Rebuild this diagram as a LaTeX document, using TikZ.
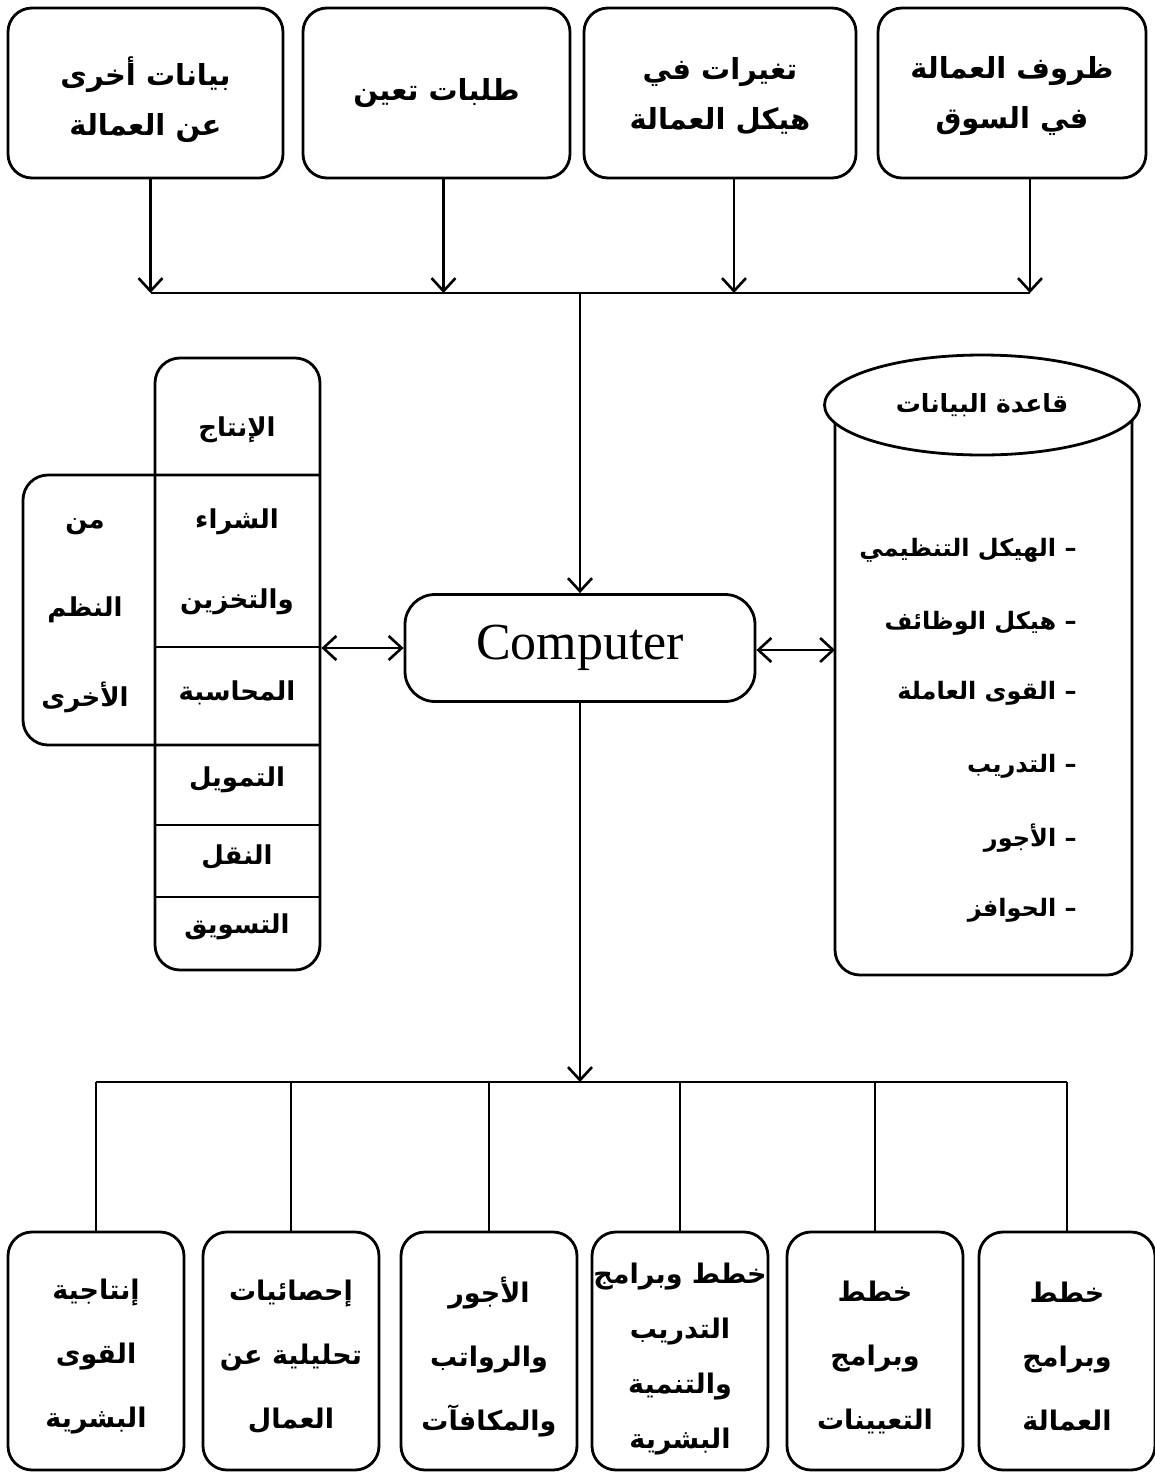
\documentclass[tikz,border=0pt]{standalone}
\usepackage{fontspec}
\setmainfont{Liberation Serif}
\newfontfamily\arabicfont[Script=Arabic]{DejaVu Sans}
\TeXXeTstate=1
\usetikzlibrary{arrows.meta,shapes.geometric}
\newcommand\artext[1]{\beginR #1\endR}
\begin{document}
\begin{tikzpicture}[x=1pt,y=-1pt,line width=2.8pt,
  box/.style={draw,rounded corners=24pt,inner sep=0pt},
  boxtext/.style={align=center,inner sep=0pt,
    font=\arabicfont\bfseries\fontsize{29}{50}\selectfont},
  botbox/.style={draw,rounded corners=24pt,inner sep=0pt,
    minimum width=176pt,minimum height=238pt},
  bottext/.style={align=center,inner sep=0pt,
    font=\arabicfont\bfseries\fontsize{27}{64}\selectfont},
  lab/.style={inner sep=0pt,align=center,font=\arabicfont\bfseries\fontsize{26}{80}\selectfont},
  item/.style={inner sep=0pt,anchor=east,font=\arabicfont\bfseries\fontsize{24}{30}\selectfont},
  arr/.style={-{Straight Barb[length=13pt,width=24pt,line width=2.6pt]}},
  darr/.style={{Straight Barb[length=13pt,width=24pt,line width=2.6pt]}-{Straight Barb[length=13pt,width=24pt,line width=2.6pt]}}]
\useasboundingbox (0,0) rectangle (1155,1476);

% top boxes
\node[box,minimum width=275pt,minimum height=170pt] (t1) at (145.5,93) {};
\node[box,minimum width=267pt,minimum height=170pt] (t2) at (436.5,93) {};
\node[box,minimum width=272pt,minimum height=170pt] (t3) at (720,93) {};
\node[box,minimum width=268pt,minimum height=170pt] (t4) at (1012,93) {};
\node[boxtext] (t1x) at ([yshift=-7pt]t1.center) {\artext{بيانات أخرى}\\\artext{عن العمالة}};
\node[boxtext] (t2x) at (t2.center) {\artext{طلبات تعين}};
\node[boxtext] (t3x) at ([yshift=-3pt]t3.center) {\artext{تغيرات في}\\\artext{هيكل العمالة}};
\node[boxtext] (t4x) at ([yshift=-3pt]t4.center) {\artext{ظروف العمالة}\\\artext{في السوق}};

% computer
\node[draw,rounded corners=30pt,minimum width=350pt,minimum height=107pt,inner sep=0pt,
  font=\fontsize{52}{60}\selectfont] (comp) at (580,648) {Computer};

% top bus
\coordinate (bus) at (580,293);
\draw[arr] ([xshift=5pt]t1.south) -- ([xshift=5pt]t1.south |- bus);
\draw[arr] ([xshift=7pt]t2.south) -- ([xshift=7pt]t2.south |- bus);
\draw[arr] ([xshift=14pt]t3.south) -- ([xshift=14pt]t3.south |- bus);
\draw[arr] ([xshift=18pt]t4.south) -- ([xshift=18pt]t4.south |- bus);
\draw ([xshift=5pt]t1.south |- bus) -- ([xshift=18pt]t4.south |- bus);
\draw[arr] (bus) -- (comp.north);

% left column
\node[draw,rounded corners=25pt,minimum width=165pt,minimum height=612pt,inner sep=0pt] (col) at (237.5,664) {};
\draw (155,475) -- (320,475);
\draw (155,647) -- (320,647);
\draw (155,745) -- (320,745);
\draw (155,825) -- (320,825);
\draw (155,897) -- (320,897);
\draw[rounded corners=25pt] (320,475) -| (23,745) -- (320,745);
\node[lab] (c1) at (237,430) {\artext{الإنتاج}};
\node[lab] (c2) at (237,562) {\artext{الشراء}\\\artext{والتخزين}};
\node[lab] (c3) at (237,693) {\artext{المحاسبة}};
\node[lab] (c4) at (237,780) {\artext{التمويل}};
\node[lab] (c5) at (237,857) {\artext{النقل}};
\node[lab] (c6) at (237,927) {\artext{التسويق}};
\node[lab] (o1) at (85,527) {\artext{من}};
\node[lab] (o2) at (85,610) {\artext{النظم}};
\node[lab] (o3) at (85,697) {\artext{الأخرى}};
\draw[darr] (comp.west -| col.east) -- (comp.west);

% database cylinder
\draw[rounded corners=25pt] (835,405) -- (835,975) -- (1132,975) -- (1132,405);
\node[draw,ellipse,fill=white,minimum width=315pt,minimum height=100pt,inner sep=0pt,
  font=\arabicfont\bfseries\fontsize{25}{30}\selectfont] (dbtop) at (982,405) {\artext{قاعدة البيانات}};
\coordinate (dbin) at (835,650);
\draw[darr] (comp.east |- dbin) -- (dbin);
\node[item] (d1) at (1078,550) {\artext{– الهيكل التنظيمي}};
\node[item] (d2) at (1078,623) {\artext{– هيكل الوظائف}};
\node[item] (d3) at (1078,693) {\artext{– القوى العاملة}};
\node[item] (d4) at (1078,766) {\artext{– التدريب}};
\node[item] (d5) at (1078,838) {\artext{– الأجور}};
\node[item] (d6) at (1078,910) {\artext{– الحوافز}};

% bottom boxes
\node[botbox] (b1) at (96,1351) {};
\node[botbox] (b2) at (291,1351) {};
\node[botbox] (b3) at (489,1351) {};
\node[botbox] (b4) at (680,1351) {};
\node[botbox] (b5) at (875,1351) {};
\node[botbox] (b6) at (1067,1351) {};
\node[bottext] (b1x) at ([yshift=-6pt]b1.center) {\artext{إنتاجية}\\\artext{القوى}\\\artext{البشرية}};
\node[bottext] (b2x) at ([yshift=-6pt]b2.center) {\artext{إحصائيات}\\\artext{تحليلية عن}\\\artext{العمال}};
\node[bottext] (b3x) at ([yshift=-6pt]b3.center) {\artext{الأجور}\\\artext{والرواتب}\\\artext{والمكافآت}};
\node[bottext,font=\arabicfont\bfseries\fontsize{27}{55}\selectfont] (b4x) at ([yshift=-8pt]b4.center) {\artext{خطط وبرامج}\\\artext{التدريب}\\\artext{والتنمية}\\\artext{البشرية}};
\node[bottext] (b5x) at ([yshift=-6pt]b5.center) {\artext{خطط}\\\artext{وبرامج}\\\artext{التعيينات}};
\node[bottext] (b6x) at ([yshift=-6pt]b6.center) {\artext{خطط}\\\artext{وبرامج}\\\artext{العمالة}};

\coordinate (bus2) at (580,1082);
\draw[arr] (comp.south) -- (bus2);
\draw (b1.north |- bus2) -- (b6.north |- bus2);
\foreach \i in {1,...,6} {\draw (b\i.north |- bus2) -- (b\i.north);}
\end{tikzpicture}
\end{document}
